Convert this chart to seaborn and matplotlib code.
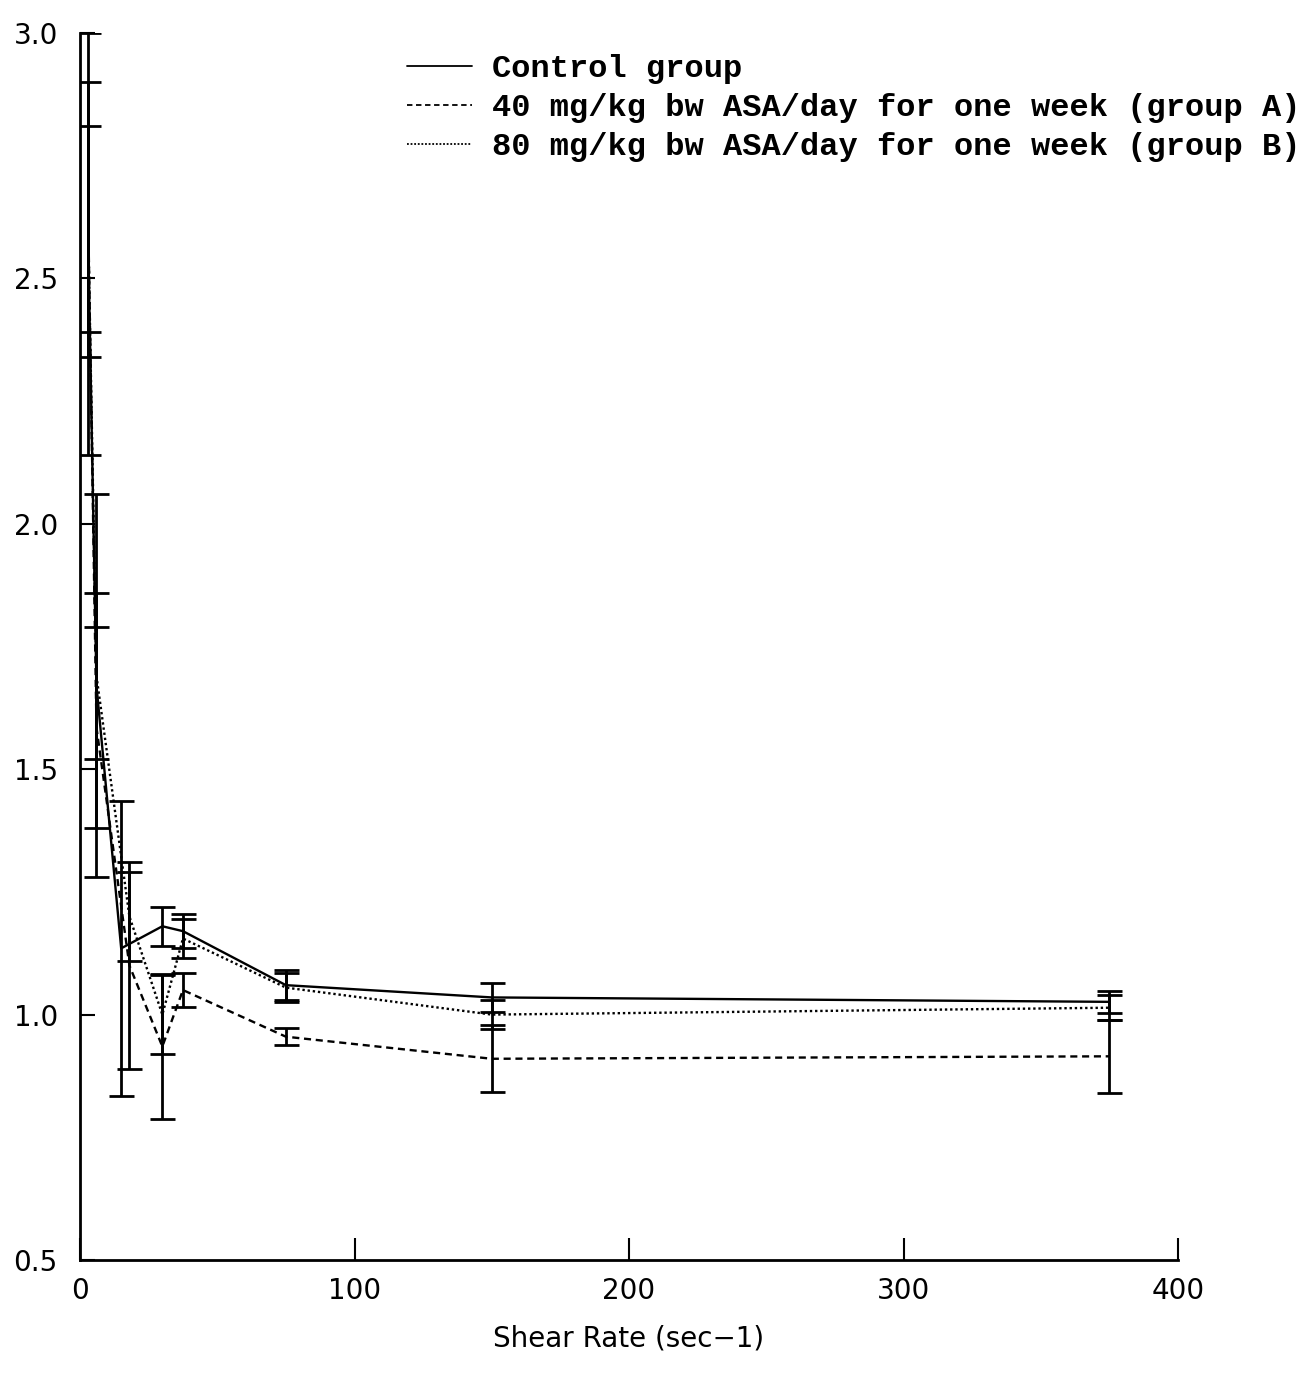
import numpy as np
import pandas as pd
import seaborn as sns
import matplotlib.pyplot as plt
from matplotlib.lines import Line2D

# shear rates (sec-1) and mean values
ctrl_x = [3, 6, 15, 30, 37.5, 75, 150, 375]
ctrl_y = [2.57, 1.67, 1.135, 1.18, 1.17, 1.06, 1.035, 1.026]
ctrl_sd = [0.43, 0.39, 0.30, 0.04, 0.035, 0.03, 0.03, 0.023]

a_x = [3, 6, 18, 30, 37.5, 75, 150, 375]
a_y = [2.62, 1.585, 1.10, 0.935, 1.05, 0.955, 0.91, 0.915]
a_sd = [0.28, 0.205, 0.21, 0.147, 0.035, 0.017, 0.068, 0.075]

b_x = [3, 6, 18, 30, 37.5, 75, 150, 375]
b_y = [2.60, 1.69, 1.20, 1.00, 1.155, 1.055, 1.00, 1.014]
b_sd = [0.21, 0.17, 0.09, 0.08, 0.04, 0.03, 0.03, 0.025]

labels = ["Control group",
          "40 mg/kg bw ASA/day for one week (group A)",
          "80 mg/kg bw ASA/day for one week (group B)"]

x_ticks = [0, 100, 200, 300, 400]
y_ticks = [0.5, 1.0, 1.5, 2.0, 2.5, 3.0]

# long form table for seaborn
df = pd.concat([
    pd.DataFrame({"rate": ctrl_x, "value": ctrl_y, "sd": ctrl_sd, "group": labels[0]}),
    pd.DataFrame({"rate": a_x, "value": a_y, "sd": a_sd, "group": labels[1]}),
    pd.DataFrame({"rate": b_x, "value": b_y, "sd": b_sd, "group": labels[2]}),
])

sns.set_style("white")
plt.rcParams["font.family"] = ["DejaVu Sans"]
plt.rcParams["text.color"] = "black"
plt.rcParams["xtick.color"] = "black"
plt.rcParams["ytick.color"] = "black"

fig = plt.figure(figsize=(13.08, 13.86), dpi=100)
ax = fig.add_axes([80 / 1308, 126 / 1386, 1098 / 1308, 1227 / 1386])

dash_map = {labels[0]: "", labels[1]: (3, 2), labels[2]: (1, 1.2)}
sns.lineplot(data=df, x="rate", y="value", hue="group", style="group",
             palette=["black"] * 3, dashes=dash_map, linewidth=1.7,
             legend=False, ax=ax, sort=False)

# error bars
for g, sub in df.groupby("group", sort=False):
    ax.errorbar(sub["rate"], sub["value"], yerr=sub["sd"], fmt="none",
                ecolor="black", elinewidth=2, capsize=9, capthick=2)

ax.set_xlim(0, 400)
ax.set_ylim(0.5, 3.0)
ax.set_xticks(x_ticks)
ax.set_yticks(y_ticks)
ax.set_yticklabels([f"{v:.1f}" for v in y_ticks])
ax.tick_params(axis="x", bottom=True, direction="in", length=16, width=1.5,
               labelsize=20, pad=12, labelcolor="black")
ax.tick_params(axis="y", left=True, direction="in", length=11, width=1.5,
               labelsize=20, pad=16, labelcolor="black")
for s in ["top", "right"]:
    ax.spines[s].set_visible(False)
for s in ["left", "bottom"]:
    ax.spines[s].set_linewidth(2)
    ax.spines[s].set_color("black")

ax.set_xlabel("Shear Rate (sec\u22121)", fontsize=20, labelpad=14, color="black")
ax.set_ylabel("")

handles = [Line2D([], [], color="black", lw=1.3, linestyle="-"),
           Line2D([], [], color="black", lw=1.3, dashes=(3, 2)),
           Line2D([], [], color="black", lw=1.3, dashes=(1, 1))]
fig.legend(handles, labels, loc="upper left",
           bbox_to_anchor=(391 / 1308, 1 - 38 / 1386),
           frameon=False, handlelength=2.03, handletextpad=0.62,
           labelspacing=0.28, borderpad=0, labelcolor="black",
           prop={"family": "Liberation Mono", "size": 23, "weight": "bold"})

fig.savefig("out.png", dpi=100)
